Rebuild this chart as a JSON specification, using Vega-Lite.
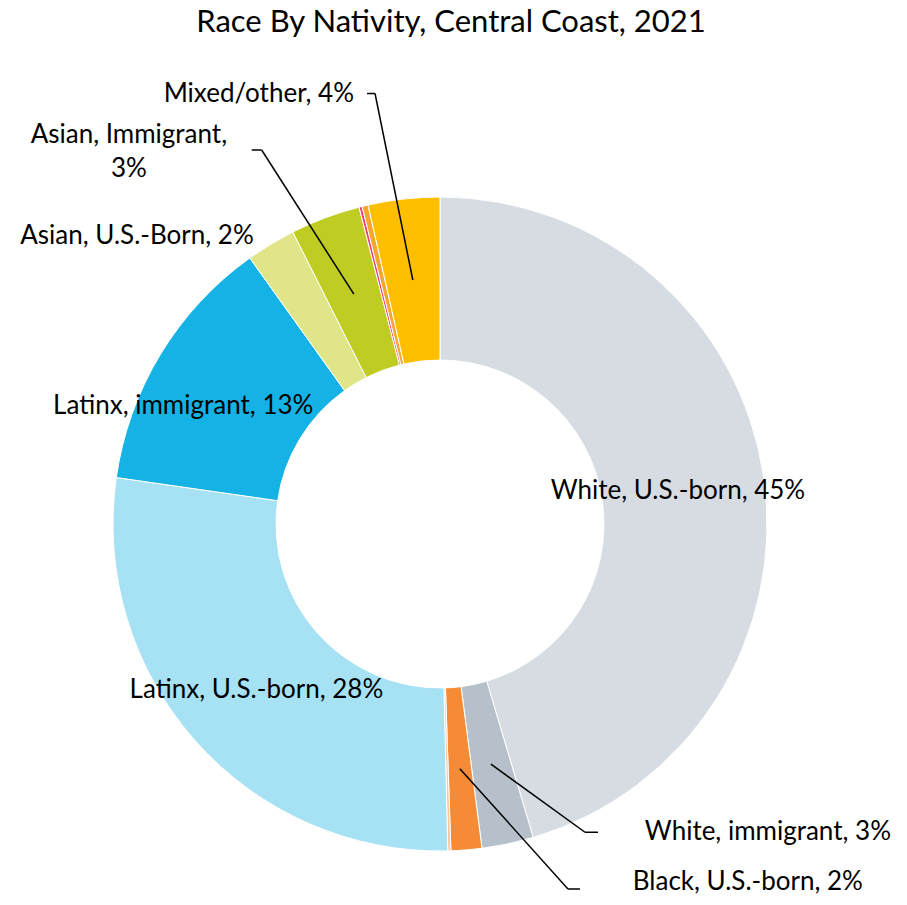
{
  "$schema": "https://vega.github.io/schema/vega-lite/v6.json",
  "width": 880,
  "height": 762,
  "autosize": {"type": "none"},
  "padding": {"left": 0, "top": 143, "right": 27, "bottom": 0},
  "background": "white",
  "config": {"view": {"stroke": null}, "font": "Lato"},
  "title": {
    "text": "Race By Nativity, Central Coast, 2021",
    "font": "Lato",
    "fontSize": 31,
    "fontWeight": "normal",
    "color": "#000000",
    "anchor": "middle",
    "frame": "group",
    "baseline": "alphabetic",
    "offset": 18,
    "dx": 11
  },
  "data": {
    "values": [
      {"group": "White, U.S.-born", "share": 45.4},
      {"group": "White, immigrant", "share": 2.55},
      {"group": "Black, U.S.-born", "share": 1.52},
      {"group": "Black, immigrant", "share": 0.15},
      {"group": "Latinx, U.S.-born", "share": 27.65},
      {"group": "Latinx, immigrant", "share": 12.85},
      {"group": "Asian, U.S.-Born", "share": 2.45},
      {"group": "Asian, Immigrant", "share": 3.45},
      {"group": "Pacific Islander", "share": 0.15},
      {"group": "Native American", "share": 0.3},
      {"group": "Mixed/other", "share": 3.53}
    ]
  },
  "transform": [
    {"window": [{"op": "row_number", "as": "idx"}]},
    {"stack": "share", "groupby": [], "sort": [{"field": "idx"}], "offset": "normalize", "as": ["s0", "s1"]},
    {"calculate": "(datum.s0 + datum.s1) / 2", "as": "mid"},
    {"calculate": "datum.group + ', ' + format(datum.share, '.0f') + '%'", "as": "label"}
  ],
  "layer": [
    {
      "mark": {"type": "arc", "outerRadius": 327, "innerRadius": 164, "stroke": "white", "strokeWidth": 1},
      "encoding": {
        "theta": {"field": "s0", "type": "quantitative", "stack": null, "scale": {"domain": [0, 1]}},
        "theta2": {"field": "s1"},
        "color": {
          "field": "group",
          "type": "nominal",
          "legend": null,
          "scale": {
            "domain": ["White, U.S.-born", "White, immigrant", "Black, U.S.-born", "Black, immigrant", "Latinx, U.S.-born", "Latinx, immigrant", "Asian, U.S.-Born", "Asian, Immigrant", "Pacific Islander", "Native American", "Mixed/other"],
            "range": ["#D6DCE1", "#B6C0CA", "#F58B34", "#FAC59C", "#A7E1F4", "#15B3E5", "#E0E587", "#BFCD22", "#EB3C7C", "#F9A72B", "#FFBF00"]
          }
        }
      }
    },
    {
      "transform": [{"filter": {"field": "group", "equal": "White, U.S.-born"}}],
      "mark": {"type": "text", "radius": 245.5, "dx": -5, "dy": 2, "fontSize": 26, "font": "Lato", "color": "#000000"},
      "encoding": {
        "theta": {"field": "mid", "type": "quantitative", "stack": null, "scale": {"domain": [0, 1]}},
        "text": {"field": "label"}
      }
    },
    {
      "transform": [{"filter": {"field": "group", "equal": "Latinx, U.S.-born"}}],
      "mark": {"type": "text", "radius": 245.5, "dx": 0, "dy": 3, "fontSize": 26, "font": "Lato", "color": "#000000"},
      "encoding": {
        "theta": {"field": "mid", "type": "quantitative", "stack": null, "scale": {"domain": [0, 1]}},
        "text": {"field": "label"}
      }
    },
    {
      "transform": [{"filter": {"field": "group", "equal": "Latinx, immigrant"}}],
      "mark": {"type": "text", "radius": 245.5, "dx": -47, "dy": 10, "fontSize": 26, "font": "Lato", "color": "#000000"},
      "encoding": {
        "theta": {"field": "mid", "type": "quantitative", "stack": null, "scale": {"domain": [0, 1]}},
        "text": {"field": "label"}
      }
    },
    {
      "transform": [{"filter": {"field": "group", "equal": "Asian, U.S.-Born"}}],
      "mark": {"type": "text", "radius": 245.5, "dx": -176, "dy": -78, "fontSize": 26, "font": "Lato", "color": "#000000"},
      "encoding": {
        "theta": {"field": "mid", "type": "quantitative", "stack": null, "scale": {"domain": [0, 1]}},
        "text": {"field": "label"}
      }
    },
    {
      "transform": [
        {"filter": {"field": "group", "equal": "Asian, Immigrant"}},
        {"calculate": "[datum.group + ',', format(datum.share, '.0f') + '%']", "as": "lines"}
      ],
      "mark": {"type": "text", "radius": 245.5, "dx": -225, "dy": -159, "fontSize": 26, "lineHeight": 34, "font": "Lato", "color": "#000000"},
      "encoding": {
        "theta": {"field": "mid", "type": "quantitative", "stack": null, "scale": {"domain": [0, 1]}},
        "text": {"field": "lines"}
      }
    },
    {
      "transform": [{"filter": {"field": "group", "equal": "Mixed/other"}}],
      "mark": {"type": "text", "radius": 245.5, "dx": -154, "dy": -186, "fontSize": 26, "font": "Lato", "color": "#000000"},
      "encoding": {
        "theta": {"field": "mid", "type": "quantitative", "stack": null, "scale": {"domain": [0, 1]}},
        "text": {"field": "label"}
      }
    },
    {
      "transform": [{"filter": {"field": "group", "equal": "White, immigrant"}}],
      "mark": {"type": "text", "radius": 245.5, "dx": 277, "dy": 68, "fontSize": 26, "font": "Lato", "color": "#000000"},
      "encoding": {
        "theta": {"field": "mid", "type": "quantitative", "stack": null, "scale": {"domain": [0, 1]}},
        "text": {"field": "label"}
      }
    },
    {
      "transform": [{"filter": {"field": "group", "equal": "Black, U.S.-born"}}],
      "mark": {"type": "text", "radius": 245.5, "dx": 288, "dy": 113, "fontSize": 26, "font": "Lato", "color": "#000000"},
      "encoding": {
        "theta": {"field": "mid", "type": "quantitative", "stack": null, "scale": {"domain": [0, 1]}},
        "text": {"field": "label"}
      }
    },
    {
      "transform": [
        {"filter": {"field": "group", "oneOf": ["Mixed/other", "Asian, Immigrant", "White, immigrant", "Black, U.S.-born"]}},
        {"calculate": "245.5 * sin(2 * PI * datum.mid)", "as": "sx"},
        {"calculate": "245.5 * cos(2 * PI * datum.mid)", "as": "sy"},
        {"calculate": "datum.group === 'Mixed/other' ? -37.8 : datum.group === 'Asian, Immigrant' ? -92.2 : datum.group === 'White, immigrant' ? 94.1 : 108.1", "as": "ox"},
        {"calculate": "datum.group === 'Mixed/other' ? 186.5 : datum.group === 'Asian, Immigrant' ? 144.1 : datum.group === 'White, immigrant' ? -68.1 : -120.3", "as": "oy"},
        {"calculate": "datum.group === 'Mixed/other' ? -8 : datum.group === 'Asian, Immigrant' ? -10 : datum.group === 'White, immigrant' ? 13 : 12", "as": "tick"},
        {"calculate": "datum.sx + datum.ox", "as": "ex"},
        {"calculate": "datum.sy + datum.oy", "as": "ey"},
        {"calculate": "datum.ex + datum.tick", "as": "tx"}
      ],
      "layer": [
        {
          "mark": {"type": "rule", "color": "#000000", "strokeWidth": 1.5},
          "encoding": {
            "x": {"field": "sx", "type": "quantitative", "axis": null, "scale": {"domain": [-440, 440], "nice": false, "zero": false}},
            "y": {"field": "sy", "type": "quantitative", "axis": null, "scale": {"domain": [-381, 381], "nice": false, "zero": false}},
            "x2": {"field": "ex"},
            "y2": {"field": "ey"}
          }
        },
        {
          "mark": {"type": "rule", "color": "#000000", "strokeWidth": 1.5},
          "encoding": {
            "x": {"field": "ex", "type": "quantitative", "axis": null, "scale": {"domain": [-440, 440], "nice": false, "zero": false}},
            "y": {"field": "ey", "type": "quantitative", "axis": null, "scale": {"domain": [-381, 381], "nice": false, "zero": false}},
            "x2": {"field": "tx"}
          }
        }
      ]
    }
  ]
}
